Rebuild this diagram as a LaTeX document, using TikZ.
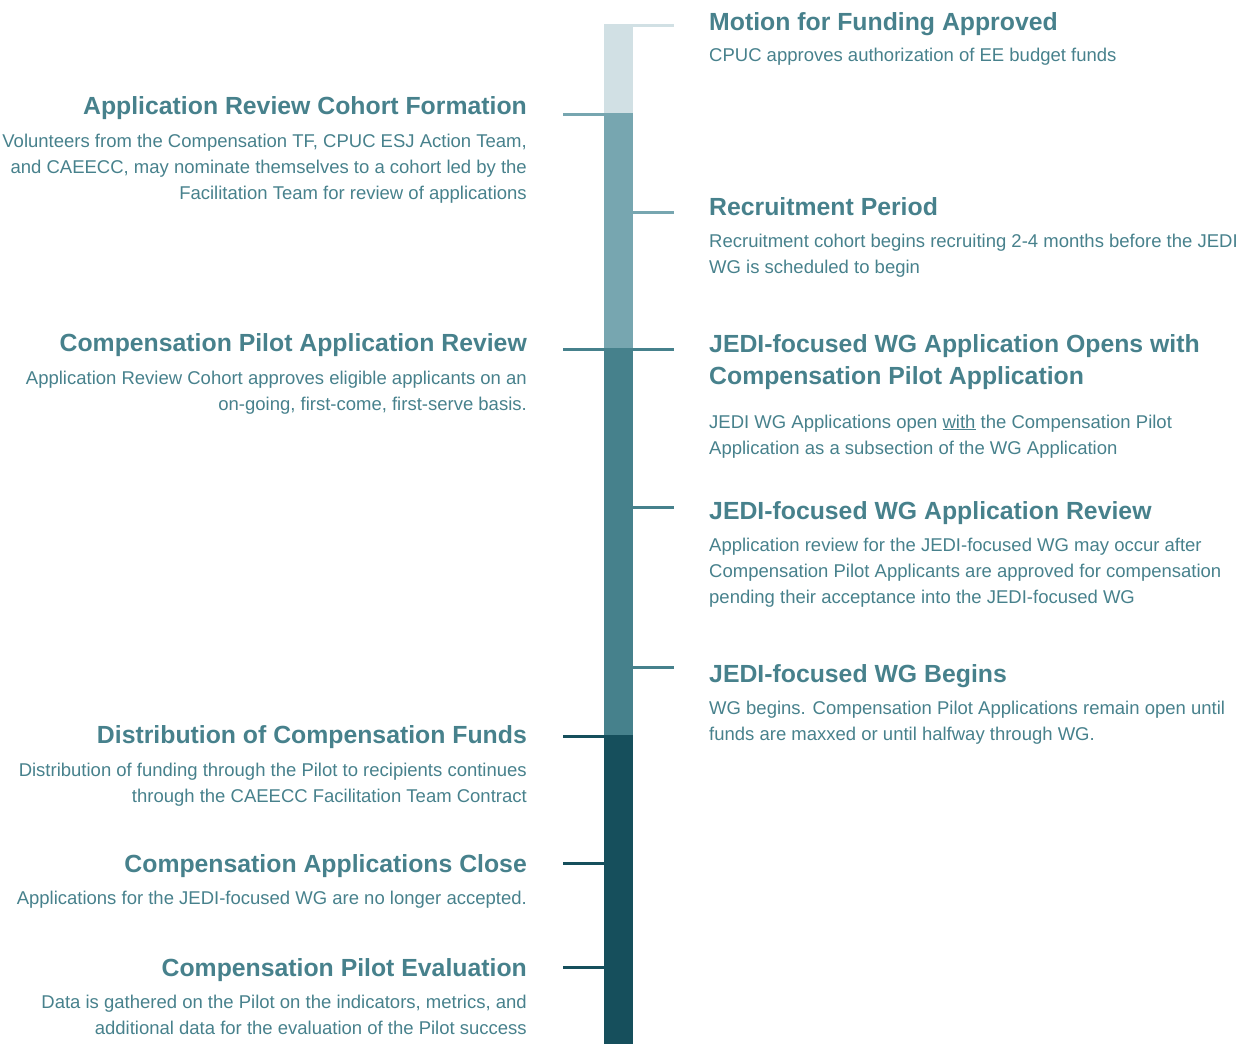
\documentclass[tikz,border=0pt]{standalone}
\usepackage{fontspec}
\setmainfont{Liberation Sans}
\usetikzlibrary{positioning}

\definecolor{stageA}{HTML}{D1E0E4}
\definecolor{stageB}{HTML}{77A6B0}
\definecolor{stageC}{HTML}{46818C}
\definecolor{stageD}{HTML}{164F5C}
\definecolor{tealtext}{HTML}{47818C}

\tikzset{
  head/.style={inner sep=0pt, text=tealtext, font=\fontsize{24.8}{32}\selectfont\bfseries},
  headR/.style={head, anchor=base west, align=left},
  headL/.style={head, anchor=base east, align=right},
  note/.style={inner sep=0pt, text=tealtext, font=\fontsize{18.5}{26}\selectfont},
  noteR/.style={note, anchor=base west, align=left},
  noteL/.style={note, anchor=base east, align=right},
  tick/.style={line width=3pt}
}

\begin{document}
\begin{tikzpicture}[x=1pt,y=-1pt]
\useasboundingbox (0,0) rectangle (1246,1044);

% the bar, one block per stage
\fill[stageA] (604,24) rectangle (633,114);
\fill[stageB] (604,114) rectangle (633,349);
\fill[stageC] (604,349) rectangle (633,735);
\fill[stageD] (604,735) rectangle (633,1044);

% ticks
\draw[tick,stageA] (604,25.5) -- (674,25.5);
\draw[tick,stageB] (563,114.5) -- (633,114.5);
\draw[tick,stageB] (633,212) -- (674,212);
\draw[tick,stageC] (563,349.5) -- (674,349.5);
\draw[tick,stageC] (633,507) -- (674,507);
\draw[tick,stageC] (633,667.5) -- (674,667.5);
\draw[tick,stageD] (563,736.5) -- (604,736.5);
\draw[tick,stageD] (563,863) -- (604,863);
\draw[tick,stageD] (563,967) -- (604,967);

% right column (y = baseline of last line)
\node[headR] (motion) at (709,30) {Motion for Funding Approved};
\node[noteR] (motionTxt) at (709,61) {CPUC approves authorization of EE budget funds};

\node[headR] (recruit) at (709,215) {Recruitment Period};
\node[noteR] (recruitTxt) at (709,273) {Recruitment cohort begins recruiting 2-4 months before the JEDI\\WG is scheduled to begin};

\node[headR] (opens) at (709,384) {JEDI-focused WG Application Opens with\\Compensation Pilot Application};
\node[noteR] (opensTxt) at (709,454) {JEDI WG Applications open \underline{with} the Compensation Pilot\\Application as a subsection of the WG Application};

\node[headR] (wgReview) at (709,519) {JEDI-focused WG Application Review};
\node[noteR] (wgReviewTxt) at (709,603) {Application review for the JEDI-focused WG may occur after\\Compensation Pilot Applicants are approved for compensation\\pending their acceptance into the JEDI-focused WG};

\node[headR] (begins) at (709,682) {JEDI-focused WG Begins};
\node[noteR] (beginsTxt) at (709,740) {WG begins. Compensation Pilot Applications remain open until\\funds are maxxed or until halfway through WG.};

% left column
\node[headL] (cohort) at (527,114) {Application Review Cohort Formation};
\node[noteL] (cohortTxt) at (527,199) {Volunteers from the Compensation TF, CPUC ESJ Action Team,\\and CAEECC, may nominate themselves to a cohort led by the\\Facilitation Team for review of applications};

\node[headL] (pilotReview) at (527,351) {Compensation Pilot Application Review};
\node[noteL] (pilotReviewTxt) at (527,410) {Application Review Cohort approves eligible applicants on an\\on-going, first-come, first-serve basis.};

\node[headL] (funds) at (527,743) {Distribution of Compensation Funds};
\node[noteL] (fundsTxt) at (527,802) {Distribution of funding through the Pilot to recipients continues\\through the CAEECC Facilitation Team Contract};

\node[headL] (close) at (527,872) {Compensation Applications Close};
\node[noteL] (closeTxt) at (527,904) {Applications for the JEDI-focused WG are no longer accepted.};

\node[headL] (evaluation) at (527,976) {Compensation Pilot Evaluation};
\node[noteL] (evaluationTxt) at (527,1034) {Data is gathered on the Pilot on the indicators, metrics, and\\additional data for the evaluation of the Pilot success};
\end{tikzpicture}
\end{document}
